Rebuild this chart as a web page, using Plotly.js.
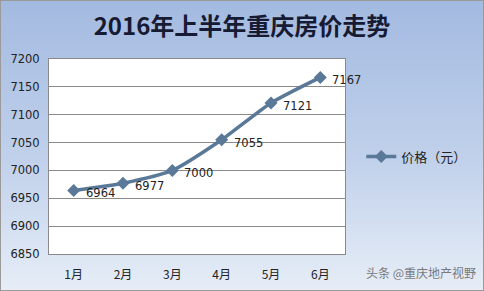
<!DOCTYPE html>
<html><head><meta charset="utf-8">
<script src="https://cdn.plot.ly/plotly-3.0.1.min.js"></script>
<style>
html,body{margin:0;padding:0;}
#wrap{width:482px;height:289px;border:1px solid #9a9a9a;background:linear-gradient(180deg,#a3bae0 0%,#c1d1eb 55%,#e6edf7 100%);}
#chart{width:484px;height:291px;margin:-1px;}
</style></head>
<body><div id="wrap"><div id="chart"></div></div>
<script>
const months = ["1月","2月","3月","4月","5月","6月"];
const prices = [6964, 6977, 7000, 7055, 7121, 7167];
const seriesName = "价格（元）";
const titleText = "2016年上半年重庆房价走势";
const watermark = "头条 @重庆地产视野";

const trace = {
  x: months, y: prices, name: seriesName, type: "scatter",
  mode: "lines+markers",
  line: {color: "#5a7898", width: 3.5, shape: "spline", smoothing: 0.6},
  marker: {symbol: "diamond", size: 10, color: "#5a7898"}
};
const labelAnns = months.map((m, i) => ({
  x: m, y: prices[i], xref: "x", yref: "y", text: String(prices[i]),
  showarrow: false, xanchor: "left", yanchor: "middle", xshift: 10, yshift: -3,
  font: {family: "DejaVu Sans, sans-serif", size: 11.5, color: "#222"}
}));
const layout = {
  width: 484, height: 291,
  margin: {l: 49, r: 132, t: 59, b: 37},
  paper_bgcolor: "rgba(0,0,0,0)", plot_bgcolor: "#ffffff",
  title: {text: titleText, x: 0.5, xanchor: "center", y: 0.91, yanchor: "middle",
    font: {family: "Noto Sans CJK SC", size: 24, color: "#161a33", weight: "bold"}},
  xaxis: {type: "category", showgrid: false, showline: true, linecolor: "#8a8a8a", mirror: true,
    ticks: "", ticklabelstandoff: 10, range: [-0.5, 5.5],
    tickfont: {family: "Noto Sans CJK SC", size: 12, color: "#222"}},
  yaxis: {range: [6850, 7200], dtick: 50, showgrid: true, gridcolor: "#8a8a8a", gridwidth: 1,
    showline: true, linecolor: "#8a8a8a", mirror: true, ticks: "", ticklabelstandoff: 6, zeroline: false,
    tickfont: {family: "DejaVu Sans, sans-serif", size: 11.5, color: "#222"}},
  showlegend: true,
  legend: {x: 1.055, xanchor: "left", y: 0.5, yanchor: "middle", bgcolor: "rgba(0,0,0,0)",
    font: {family: "Noto Sans CJK SC", size: 13, color: "#222"}},
  annotations: labelAnns.concat([{text: watermark, xref: "paper", yref: "paper", x: 1.45, y: -0.095,
    xanchor: "right", yanchor: "middle", showarrow: false,
    font: {family: "Noto Sans CJK SC", size: 12, color: "#7a7a7a"}}])
};
Plotly.newPlot("chart", [trace], layout, {displayModeBar: false, staticPlot: true});
</script></body></html>
